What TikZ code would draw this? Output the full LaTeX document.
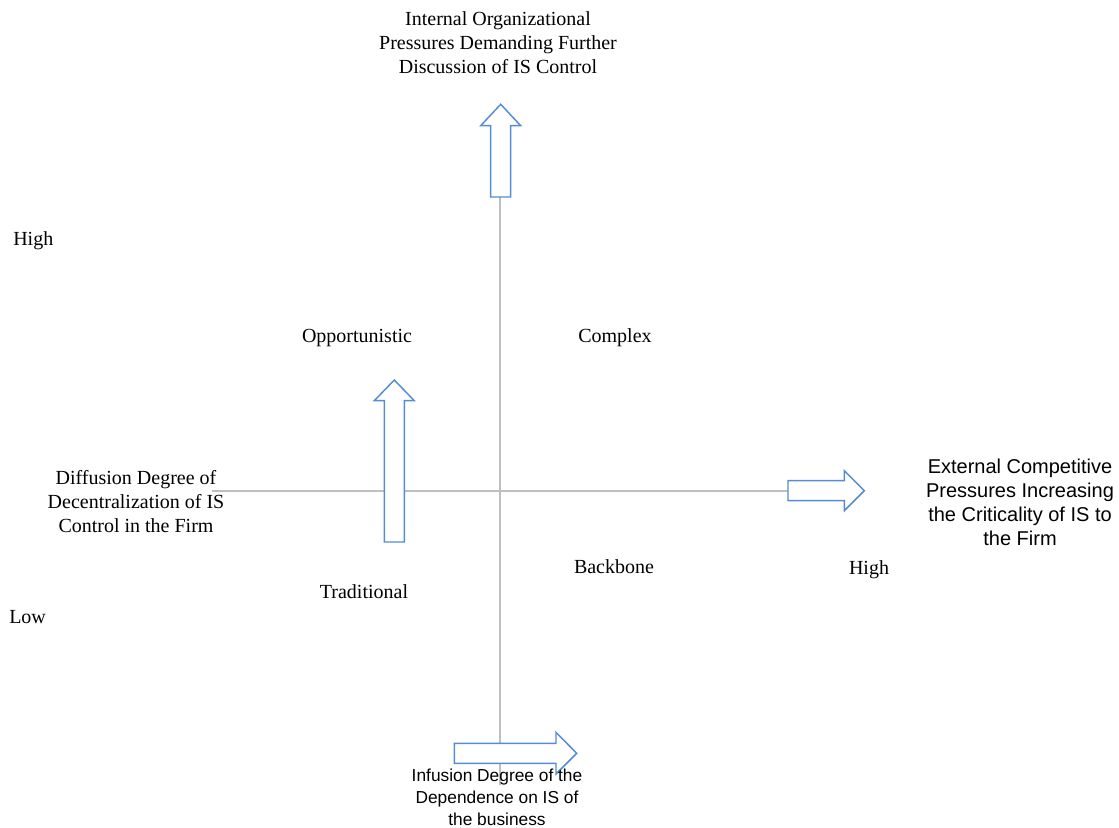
\documentclass[tikz,border=0pt]{standalone}
\usepackage{fontspec}
\setmainfont{Liberation Serif}
\setsansfont{Liberation Sans}
\usepackage{tikz}

\tikzset{
  axisline/.style={draw={rgb,255:red,191;green,191;blue,191}, line width=1.5pt},
  blockarrow/.style={draw={rgb,255:red,84;green,141;blue,212}, fill=white, line width=1.1pt, line join=miter},
  serflabel/.style={font=\fontsize{15}{18}\selectfont, align=center, inner sep=0pt},
  sanslabel/.style={font=\sffamily\fontsize{15}{18}\selectfont, align=center, inner sep=0pt}
}

\begin{document}
\begin{tikzpicture}[x=0.75pt, y=-0.75pt]
            \useasboundingbox (0,0) rectangle (1119,827);
            % axes
            \coordinate (vtop) at (500,197);
            \coordinate (vbot) at (500,785);
            \coordinate (hleft) at (212,491);
            \coordinate (hright) at (788,491);
            \draw[axisline] (vtop) -- (vbot);
            \draw[axisline] (hleft) -- (hright);
            % block arrows
            \draw[blockarrow] (490.7,197) -- (490.7,125.7) -- (480.7,125.7) -- (500.7,104.3)
                -- (520.7,125.7) -- (510.7,125.7) -- (510.7,197) -- cycle;
            \draw[blockarrow] (384.3,542) -- (384.3,400.7) -- (374.3,400.7) -- (394.3,380)
                -- (414.3,400.7) -- (404.3,400.7) -- (404.3,542) -- cycle;
            \draw[blockarrow] (788,480.7) -- (844.3,480.7) -- (844.3,470.7) -- (864.3,490.7)
                -- (844.3,510.7) -- (844.3,500.7) -- (788,500.7) -- cycle;
            \draw[blockarrow] (454.3,743.3) -- (556,743.3) -- (556,732.3) -- (576.7,753.3)
                -- (556,774) -- (556,763.3) -- (454.3,763.3) -- cycle;
            % labels
            \node[serflabel] (internal) at (498,43) {Internal Organizational\\Pressures Demanding Further\\Discussion of IS Control};
            \node[serflabel, anchor=west] (highleft) at (13,241) {High};
            \node[serflabel] (opport) at (357,338) {Opportunistic};
            \node[serflabel] (complex) at (615,338) {Complex};
            \node[serflabel] (diffusion) at (136,502) {Diffusion Degree of\\Decentralization of IS\\Control in the Firm};
            \node[sanslabel] (external) at (1020,502) {External Competitive\\Pressures Increasing\\the Criticality of IS to\\the Firm};
            \node[serflabel] (backbone) at (614,567) {Backbone};
            \node[serflabel] (highright) at (869,570) {High};
            \node[serflabel] (traditional) at (364,592) {Traditional};
            \node[serflabel, anchor=west] (low) at (9,617) {Low};
            \node[sanslabel, font=\sffamily\fontsize{13}{16.5}\selectfont] (infusion) at (497,797) {Infusion Degree of the\\Dependence on IS of\\the business};
\end{tikzpicture}
\end{document}
